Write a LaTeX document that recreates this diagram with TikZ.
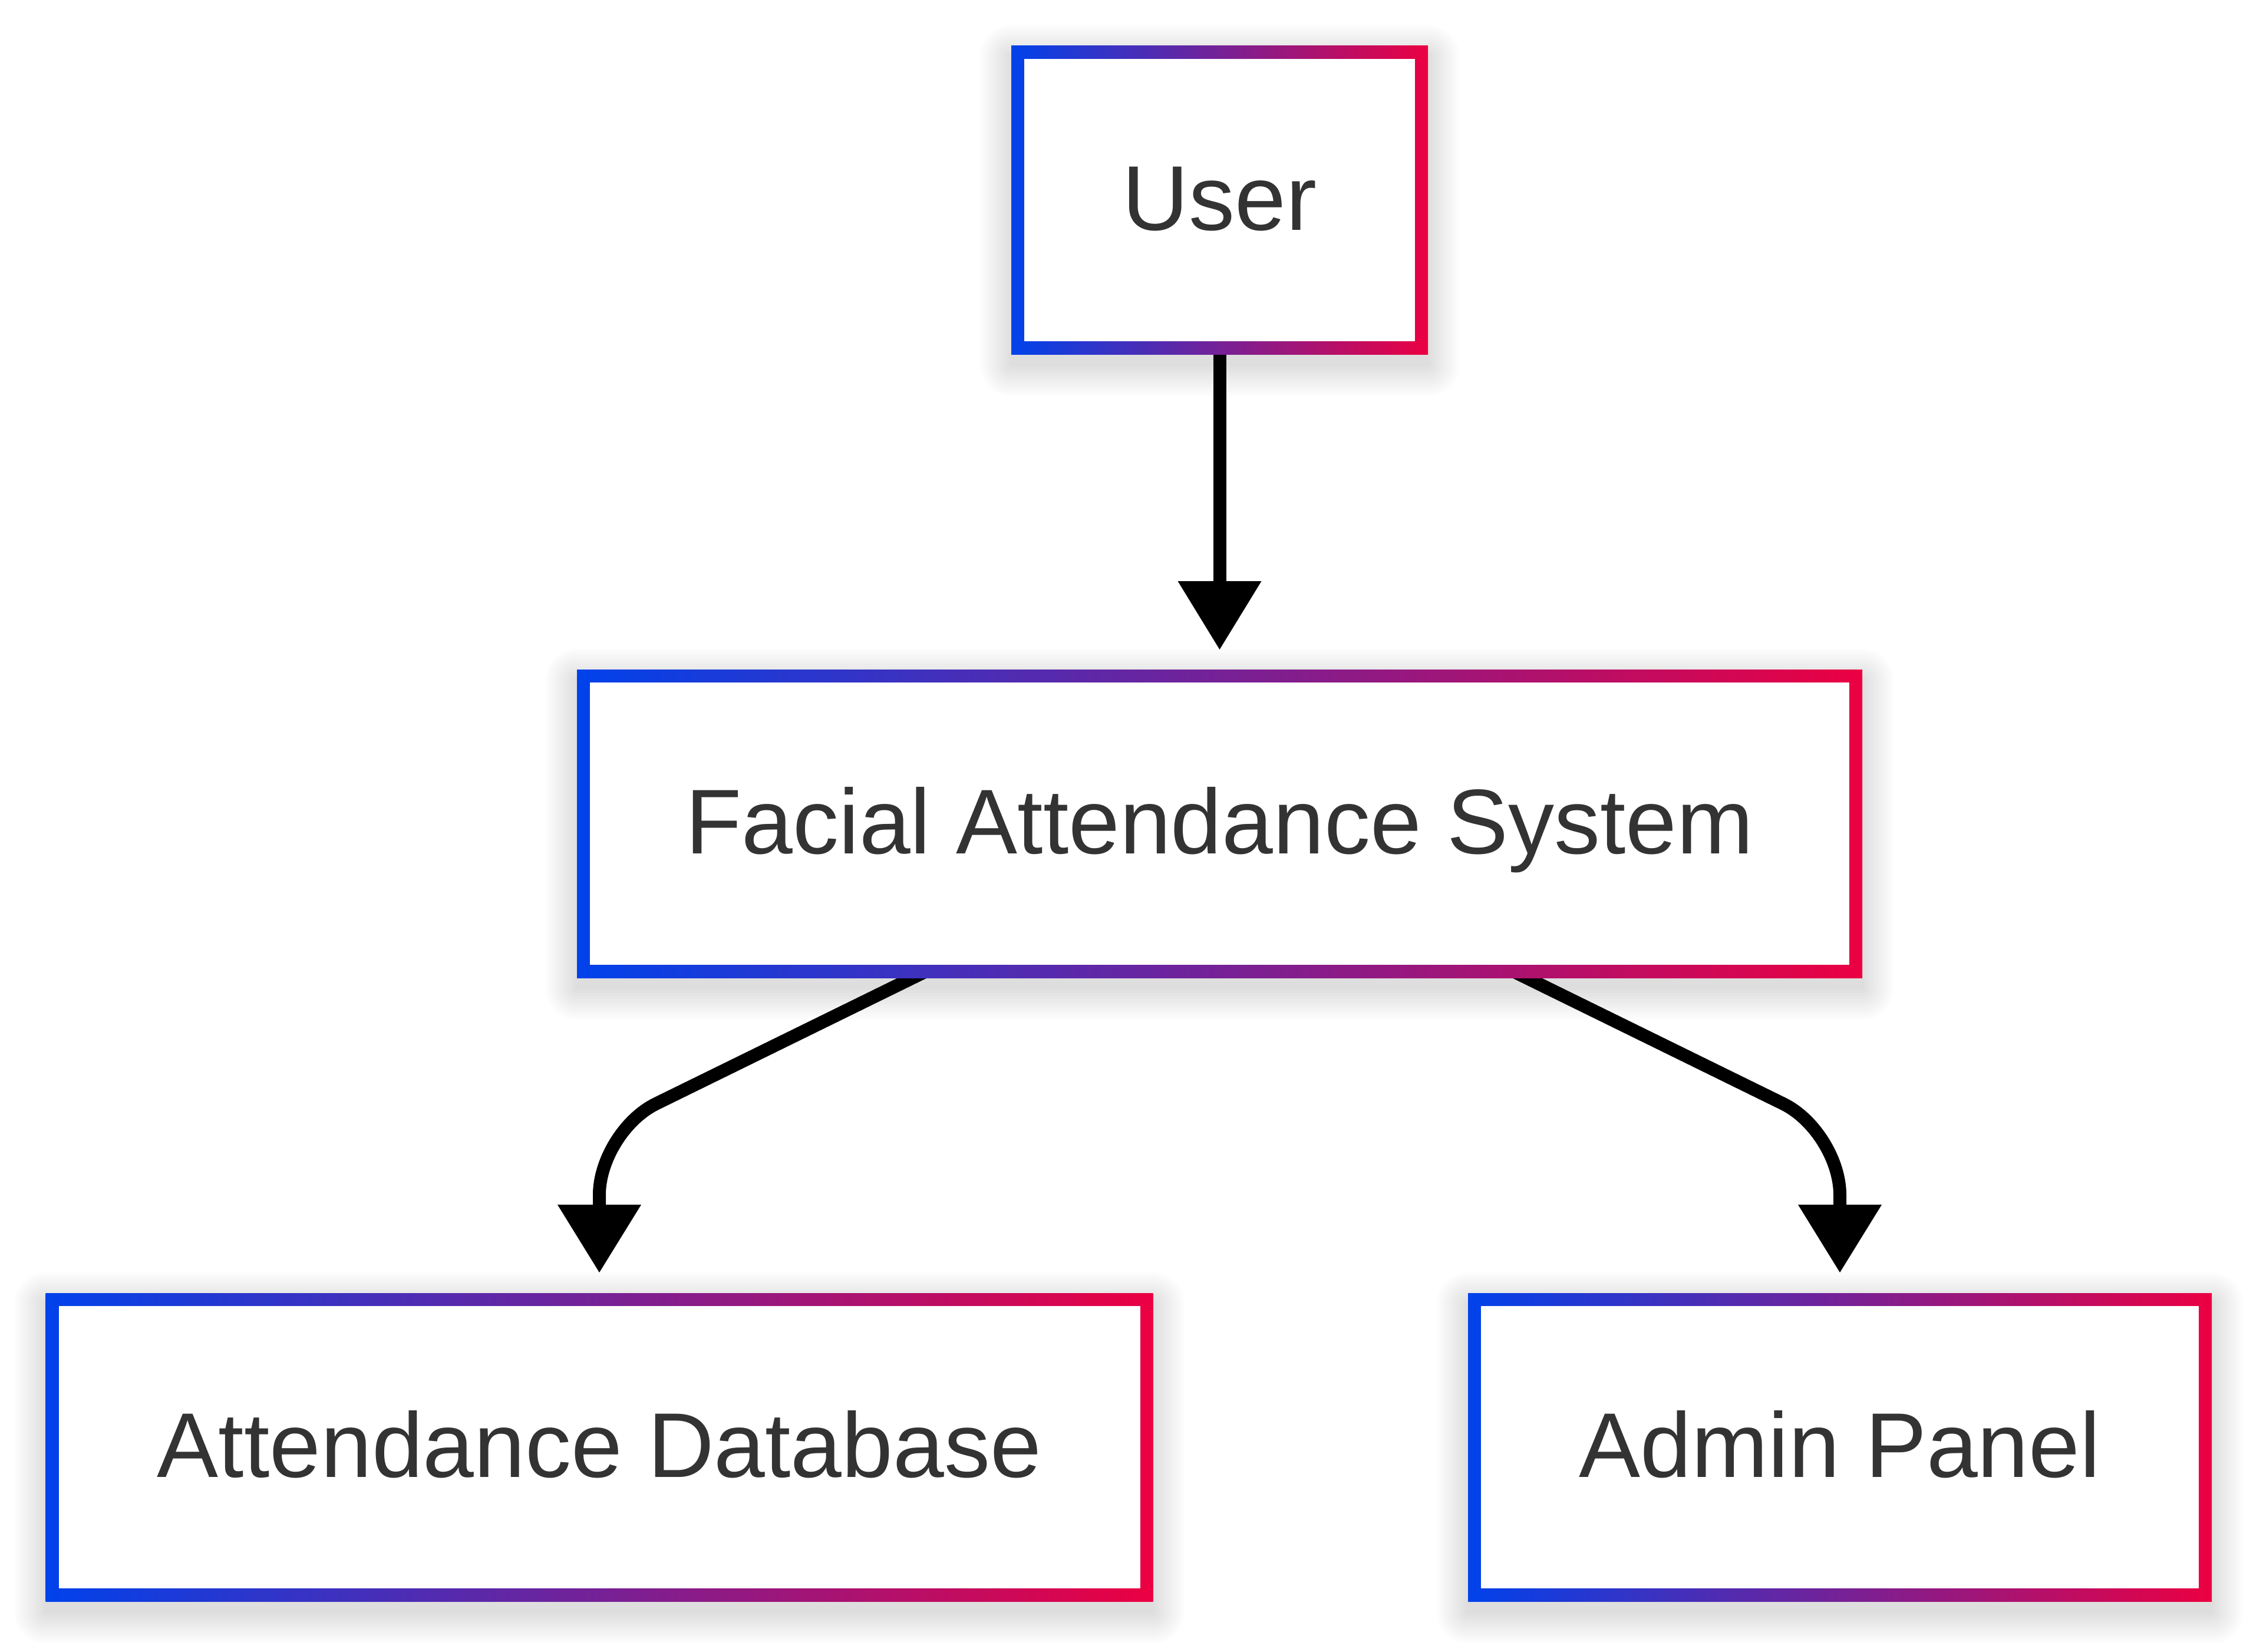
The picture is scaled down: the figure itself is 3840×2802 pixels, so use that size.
\documentclass[tikz,border=0pt]{standalone}
\usepackage{fontspec}
\setmainfont{Liberation Sans}
\usetikzlibrary{backgrounds}
\definecolor{gblue}{RGB}{0,66,235}
\definecolor{gred}{RGB}{235,0,66}
\definecolor{txtgray}{RGB}{51,51,51}
\newcommand\softshade[1]{%
  \foreach \r in {3,8,...,53} {
    \fill[black, opacity=0.013, rounded corners=\r pt]
      ([shift={(-\r,-\r+18)}]#1.north west) rectangle ([shift={(\r,\r+18)}]#1.south east);
  }}
\tikzset{
  box/.style={rectangle, inner sep=0pt, outer sep=0pt, minimum height=523pt,
    left color=gblue, right color=gred, text=txtgray,
    font=\fontsize{156}{180}\selectfont, text height=130pt, text depth=29pt,
    path picture={\fill[white] ([shift={(22,22)}]path picture bounding box.north west)
      rectangle ([shift={(-22,-22)}]path picture bounding box.south east);}},
  conn/.style={line width=22pt, draw=black},
  tiphead/.style={fill=black},
}
\begin{document}
\begin{tikzpicture}[x=1pt, y=-1pt]
  \useasboundingbox (0,0) rectangle (3840,2802);

  \node[box, minimum width=707pt]  (user)  at (2069.5,339.5)  {User};
  \node[box, minimum width=2181pt] (fas)   at (2069.5,1397.5) {Facial Attendance System};
  \node[box, minimum width=1879pt] (adb)   at (1017,2455.5)   {Attendance Database};
  \node[box, minimum width=1262pt] (admin) at (3122,2455.5)   {Admin Panel};

  \coordinate (kl) at (adb.north |- 0,1920);
  \coordinate (kr) at (admin.north |- 0,1920);

  \begin{scope}[on background layer]
    \fill[white] (0,0) rectangle (3840,2802);
    \softshade{user}
    \softshade{fas}
    \softshade{adb}
    \softshade{admin}

    % User -> Facial Attendance System
    \draw[conn] ([yshift=10pt]user.south) -- ([yshift=148pt]fas.north);
    \fill[tiphead] ([yshift=34pt]fas.north) -- ++(-71,-116) -- ++(142,0) -- cycle;

    % Facial Attendance System -> Attendance Database
    \draw[conn, rounded corners=107pt] ([xshift=-484pt,yshift=18pt]fas.south) -- (kl) -- ([yshift=148pt]adb.north);
    \fill[tiphead] ([yshift=35pt]adb.north) -- ++(-71,-115) -- ++(142,0) -- cycle;

    % Facial Attendance System -> Admin Panel
    \draw[conn, rounded corners=107pt] ([xshift=484pt,yshift=18pt]fas.south) -- (kr) -- ([yshift=148pt]admin.north);
    \fill[tiphead] ([yshift=35pt]admin.north) -- ++(-71,-115) -- ++(142,0) -- cycle;
  \end{scope}
\end{tikzpicture}
\end{document}
